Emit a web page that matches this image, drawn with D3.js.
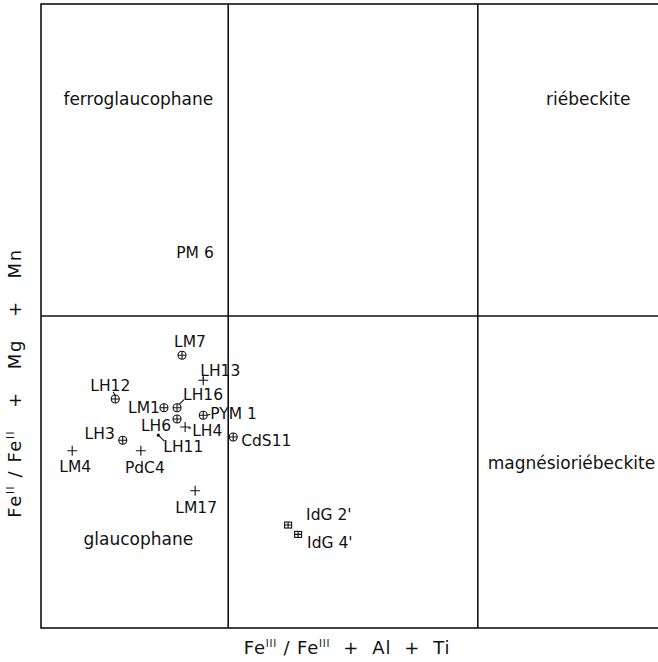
<!DOCTYPE html>
<html>
<head>
<meta charset="utf-8">
<script src="https://cdn.jsdelivr.net/npm/d3@7"></script>
<style>
  body { margin: 0; background: #fff; }
  svg { display: block; }
  text { font-family: "DejaVu Sans", sans-serif; fill: #111; }
  .frame, .bound { fill: none; stroke: #111; stroke-width: 1.6; }
  .mark { fill: none; stroke: #111; stroke-width: 1.1; }
  .axtitle { white-space: pre; letter-spacing: 0.8px; }
</style>
</head>
<body>
<div id="chart"></div>
<script>
const WIDTH = 658,
      HEIGHT = 662,
      LEFT = 41,
      RIGHT = 665,   // frame runs past the window edge
      TOP = 4,
      BOTTOM = 628;

// samples: Fe3/(Fe3+Al+Ti) and Fe2/(Fe2+Mg+Mn)
const names = ["LM7", "LH13", "LH12", "LM1", "LH16", "LH6", "LH4", "PYM 1", "CdS11",
               "LH11", "LH3", "LM4", "PdC4", "LM17", "IdG 2'", "IdG 4'", "PM 6"];
const fe3 = [0.226, 0.260, 0.119, 0.197, 0.218, 0.218, 0.231, 0.260, 0.308,
             0.188, 0.131, 0.050, 0.160, 0.247, 0.396, 0.412, 0.266];
const fe2 = [0.437, 0.397, 0.367, 0.353, 0.353, 0.335, 0.322, 0.341, 0.306,
             0.309, 0.301, 0.284, 0.284, 0.220, 0.165, 0.150, 0.600];
const symbols = ["circplus", "plus", "circplus", "circplus", "circplus", "circplus", "plus", "circplus", "circplus",
                 "dot", "circplus", "plus", "plus", "plus", "sqplus", "sqplus", "none"];

// field boundaries
const xBounds = [0.3, 0.7];
const yBounds = [0.5];

// field names
const fieldNames = ["ferroglaucophane", "riébeckite", "magnésioriébeckite", "glaucophane"];
const fieldX = [0.156, 0.877, 0.85, 0.156];
const fieldY = [0.838, 0.838, 0.255, 0.133];

// label placement relative to marker: dx, dy, anchor, leader line
const labelPos = [
  [8, -8, "middle", null],
  [-3, -4, "start", [0, -1, 0, -3]],
  [-25, -8, "start", [-2, -7, 0, -3]],
  [-4, 5, "end", null],
  [6, -8, "start", [2, -3, 7, -8]],
  [-6, 12, "end", null],
  [7, 9, "start", [3, 1, 6, 1]],
  [7, 4, "start", [4, 0, 7, -1]],
  [8, 9, "start", null],
  [5, 17, "start", [1, 1, 6, 6]],
  [-8, -1, "end", null],
  [3, 21, "middle", null],
  [4, 22, "middle", null],
  [1, 22, "middle", null],
  [18, -5, "start", null],
  [9, 14, "start", null],
  [-12, 4, "middle", null]
];

const x = d3.scaleLinear().domain([0, 1]).range([LEFT, RIGHT]),
      y = d3.scaleLinear().domain([0, 1]).range([BOTTOM, TOP]);

const svg = d3.select("#chart")
  .append("svg")
  .attr("width", WIDTH)
  .attr("height", HEIGHT);

svg.append("rect")
  .attr("class", "frame")
  .attr("x", x(0))
  .attr("y", y(1))
  .attr("width", x(1) - x(0))
  .attr("height", y(0) - y(1));

svg.selectAll("line.vb")
  .data(xBounds)
  .join("line")
  .attr("class", "bound vb")
  .attr("x1", d => x(d)).attr("x2", d => x(d))
  .attr("y1", y(0)).attr("y2", y(1));

svg.selectAll("line.hb")
  .data(yBounds)
  .join("line")
  .attr("class", "bound hb")
  .attr("x1", x(0)).attr("x2", x(1))
  .attr("y1", d => y(d)).attr("y2", d => y(d));

svg.selectAll("text.field")
  .data(fieldNames)
  .join("text")
  .attr("class", "field")
  .attr("x", (d, i) => x(fieldX[i]))
  .attr("y", (d, i) => y(fieldY[i]))
  .attr("text-anchor", "middle")
  .style("font-size", "17px")
  .text(d => d);

let samples = names.map((n, i) => ({name: n, x: fe3[i], y: fe2[i], sym: symbols[i], lab: labelPos[i]}));

let g = svg.selectAll("g.sample")
  .data(samples)
  .join("g")
  .attr("class", "sample")
  .attr("transform", d => "translate(" + x(d.x) + "," + y(d.y) + ")");

g.each(function(d) {
  let s = d3.select(this);
  if (d.sym == "circplus") {
    s.append("circle").attr("class", "mark").attr("r", 4);
    s.append("path").attr("class", "mark").attr("d", "M-4,0H4M0,-4V4");
  } else if (d.sym == "plus") {
    s.append("path").attr("class", "mark").attr("d", "M-5,0H5M0,-5V5");
  } else if (d.sym == "sqplus") {
    s.append("rect").attr("class", "mark").attr("x", -3.5).attr("y", -3).attr("width", 7).attr("height", 6);
    s.append("path").attr("class", "mark").attr("d", "M-3.5,0H3.5M0,-3V3");
  } else if (d.sym == "dot") {
    s.append("circle").attr("r", 1.6).style("fill", "#111");
  }

  if (d.lab[3]) {
    let l = d.lab[3];
    s.append("line").attr("class", "mark")
      .attr("x1", l[0]).attr("y1", l[1]).attr("x2", l[2]).attr("y2", l[3]);
  }

  s.append("text")
    .attr("x", d.lab[0])
    .attr("y", d.lab[1])
    .attr("text-anchor", d.lab[2])
    .style("font-size", "15.5px")
    .text(d.name);
});

// axis titles with roman-numeral superscripts
function title(sel, parts) {
  parts.forEach(p => {
    sel.append("tspan")
      .attr("dy", p.sup ? -7 : (p.after ? 7 : 0))
      .style("font-size", p.sup ? "10px" : null)
      .text(p.t);
  });
}

let xt = svg.append("text")
  .attr("class", "axtitle")
  .attr("x", 347)
  .attr("y", 654)
  .attr("text-anchor", "middle")
  .style("font-size", "18px");
title(xt, [{t: "Fe"}, {t: "III", sup: true}, {t: " / Fe", after: true}, {t: "III", sup: true}, {t: "  +  Al  +  Ti", after: true}]);

let yt = svg.append("text")
  .attr("class", "axtitle")
  .attr("transform", "translate(21,383) rotate(-90)")
  .attr("text-anchor", "middle")
  .style("font-size", "18px")
  .style("letter-spacing", "1.6px");
title(yt, [{t: "Fe"}, {t: "II", sup: true}, {t: " / Fe", after: true}, {t: "II", sup: true}, {t: "   +   Mg   +   Mn", after: true}]);
</script>
</body>
</html>
